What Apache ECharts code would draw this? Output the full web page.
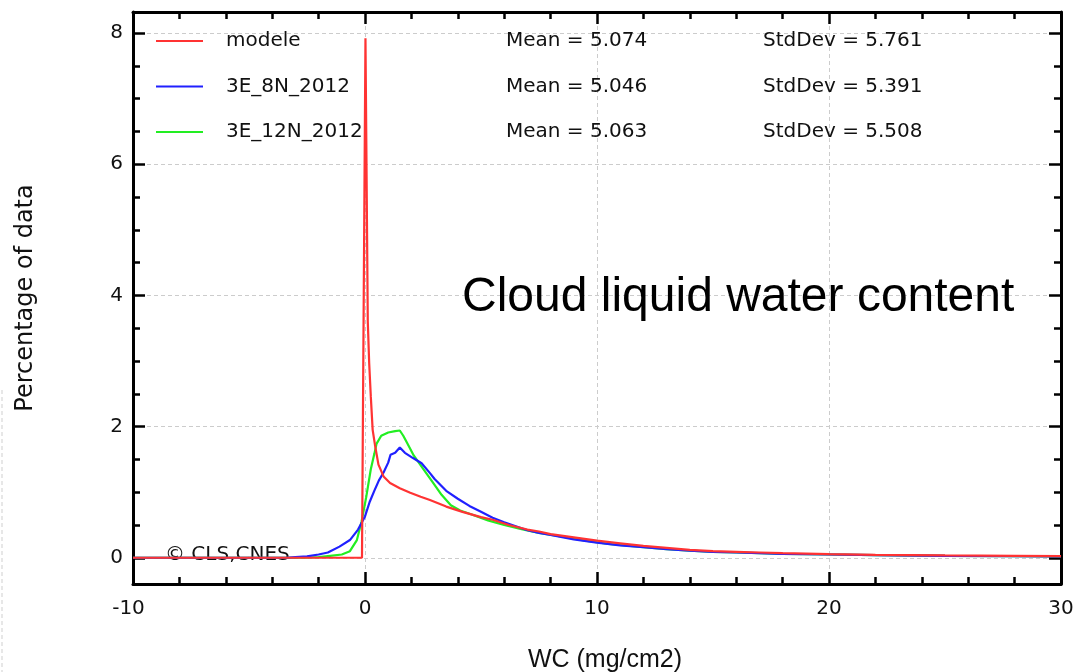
<!DOCTYPE html>
<html>
<head>
<meta charset="utf-8">
<script src="https://cdn.jsdelivr.net/npm/echarts@6/dist/echarts.min.js"></script>
<style>
  html, body { margin: 0; padding: 0; background: #ffffff; }
  #chart { width: 1076px; height: 672px; }
</style>
</head>
<body>
<div id="chart"></div>
<script>
// Histogram of cloud liquid water content (percentage of data per WC bin)
const seriesNames = ['modele', '3E_8N_2012', '3E_12N_2012'];
const seriesColors = ['#ff3333', '#2020ff', '#22ee22'];
const meanValues = ['5.074', '5.046', '5.063'];
const stdDevValues = ['5.761', '5.391', '5.508'];

const yTickValues = [0, 2, 4, 6, 8];

const modeleX = [-10, -0.13, 0.02, 0.12, 0.18, 0.25, 0.33, 0.43, 0.58, 0.8, 1.08, 1.5, 1.95, 2.4, 2.8, 3.5, 4.2, 5.0, 5.5, 6.2, 7.0, 7.5, 8.0, 9.0, 10, 11, 12, 13, 14, 15, 16, 17, 18, 20, 22, 25, 28, 30];
const modeleY = [0, 0, 7.92, 3.6, 2.97, 2.46, 1.95, 1.72, 1.42, 1.24, 1.14, 1.06, 0.99, 0.93, 0.88, 0.78, 0.70, 0.62, 0.58, 0.50, 0.43, 0.40, 0.36, 0.31, 0.26, 0.22, 0.18, 0.15, 0.12, 0.10, 0.09, 0.08, 0.07, 0.055, 0.045, 0.035, 0.03, 0.025];

const blueX = [-10, -3.4, -3.0, -2.5, -2.0, -1.6, -1.1, -0.65, -0.3, 0, 0.2, 0.4, 0.6, 0.8, 1.0, 1.1, 1.3, 1.5, 1.72, 2.07, 2.44, 2.8, 3.0, 3.5, 4.0, 4.5, 5.0, 5.5, 6.0, 6.5, 7.0, 7.5, 8.0, 9.0, 10, 11, 12, 13, 14, 15, 16, 17, 18, 20, 22, 25, 28, 30];
const blueY = [0, 0, 0.01, 0.02, 0.05, 0.08, 0.17, 0.27, 0.43, 0.63, 0.85, 1.02, 1.18, 1.30, 1.45, 1.57, 1.60, 1.68, 1.60, 1.52, 1.44, 1.29, 1.20, 1.02, 0.90, 0.79, 0.70, 0.61, 0.54, 0.48, 0.42, 0.38, 0.35, 0.28, 0.23, 0.19, 0.16, 0.13, 0.11, 0.09, 0.08, 0.07, 0.06, 0.05, 0.04, 0.03, 0.025, 0.02];

const greenX = [-10, -2.6, -2.0, -1.5, -1.0, -0.65, -0.35, -0.15, 0.05, 0.25, 0.4, 0.5, 0.7, 1.0, 1.3, 1.5, 1.65, 1.8, 2.1, 2.5, 2.9, 3.3, 3.7, 4.1, 4.6, 5.3, 6.0, 6.7, 7.5, 8.5, 9.5, 10.5, 12, 13, 14, 15, 16, 18, 20, 22, 25, 28, 30];
const greenY = [0, 0, 0.01, 0.03, 0.05, 0.10, 0.27, 0.55, 0.92, 1.35, 1.58, 1.74, 1.86, 1.91, 1.93, 1.94, 1.86, 1.76, 1.56, 1.36, 1.16, 0.96, 0.80, 0.72, 0.66, 0.57, 0.50, 0.44, 0.38, 0.32, 0.26, 0.21, 0.16, 0.13, 0.11, 0.09, 0.08, 0.06, 0.05, 0.04, 0.03, 0.025, 0.02];

const xSeries = [modeleX, blueX, greenX];
const ySeries = [modeleY, blueY, greenY];

const TEXT_FONT = 'DejaVu Sans';
const TEXT_SIZE = 20;
const TEXT_COLOR = '#111111';
const AXIS_COLOR = '#000000';

function zip(xs, ys) {
  return xs.map((x, i) => [x, ys[i]]);
}

// Shared frame styling for all four sides
function frameAxis(extra) {
  return Object.assign({
    axisLine: { show: true, onZero: false, lineStyle: { color: AXIS_COLOR, width: 3 } },
    axisTick: { show: true, inside: true, length: 12, lineStyle: { color: AXIS_COLOR, width: 2.5 } },
    minorTick: { show: true, length: 7, lineStyle: { color: AXIS_COLOR, width: 2.5 } },
    splitLine: { show: false },
    axisLabel: { show: false }
  }, extra);
}

const gridLine = { show: true, lineStyle: { color: '#cccccc', width: 1, type: [4, 3] } };

const xBase = { type: 'value', min: -10, max: 30, interval: 10 };
const yBase = { type: 'value', min: -0.4, max: 8.32, splitNumber: 5 };

const richCell = (w) => Object.assign({ fontFamily: TEXT_FONT, fontSize: TEXT_SIZE, color: TEXT_COLOR }, w ? { width: w } : {});

const option = {
  animation: false,
  backgroundColor: '#ffffff',
  grid: { left: 133, right: 15, top: 12, bottom: 88, containLabel: false, outerBoundsMode: 'none' },
  title: {
    text: 'Cloud liquid water content',
    left: 462, top: 274, padding: 0,
    textStyle: { fontFamily: 'Liberation Sans', fontSize: 48, fontWeight: 'normal', color: '#000000', lineHeight: 48 }
  },
  legend: {
    orient: 'vertical',
    left: 155, top: 31, padding: 0,
    itemWidth: 47, itemHeight: 20, itemGap: 25.5,
    itemStyle: { opacity: 0 },
    lineStyle: { width: 2 },
    data: seriesNames,
    formatter: function (name) {
      const i = seriesNames.indexOf(name);
      return '{g| }{n|' + name + '}{m|Mean = ' + meanValues[i] + '}{s|StdDev = ' + stdDevValues[i] + '}';
    },
    textStyle: {
      fontFamily: TEXT_FONT, fontSize: TEXT_SIZE, color: TEXT_COLOR, lineHeight: 20,
      rich: {
        g: richCell(18),
        n: richCell(280),
        m: richCell(257),
        s: richCell(0)
      }
    }
  },
  xAxis: [
    frameAxis(Object.assign({}, xBase, {
      position: 'bottom',
      minorTick: { show: true, splitNumber: 5, length: 7, lineStyle: { color: AXIS_COLOR, width: 2.5 } },
      splitLine: gridLine,
      axisLabel: {
        show: true, margin: 15, fontFamily: TEXT_FONT, fontSize: TEXT_SIZE, color: TEXT_COLOR,
        // negative labels sit slightly left of their tick
        formatter: (v) => (v < 0 ? '{neg|' + v + '}' : String(v)),
        rich: { neg: { fontFamily: TEXT_FONT, fontSize: TEXT_SIZE, color: TEXT_COLOR, padding: [0, 9, 0, 0] } }
      },
      name: 'WC (mg/cm2)', nameLocation: 'middle', nameGap: 64,
      nameTextStyle: { fontFamily: 'Liberation Sans', fontSize: 25, color: TEXT_COLOR, padding: [0, 0, 0, 16] }
    })),
    frameAxis(Object.assign({}, xBase, {
      position: 'top',
      minorTick: { show: true, splitNumber: 5, length: 7, lineStyle: { color: AXIS_COLOR, width: 2.5 } }
    }))
  ],
  yAxis: [
    frameAxis(Object.assign({}, yBase, {
      position: 'left',
      axisTick: { show: true, inside: true, length: 12, customValues: yTickValues, lineStyle: { color: AXIS_COLOR, width: 2.5 } },
      minorTick: { show: true, splitNumber: 4, length: 7, lineStyle: { color: AXIS_COLOR, width: 2.5 } },
      splitLine: gridLine,
      axisLabel: { show: true, margin: 10, customValues: yTickValues, fontFamily: TEXT_FONT, fontSize: TEXT_SIZE, color: TEXT_COLOR },
      name: 'Percentage of data', nameLocation: 'middle', nameGap: 95,
      nameTextStyle: { fontFamily: TEXT_FONT, fontSize: 24, color: TEXT_COLOR }
    })),
    frameAxis(Object.assign({}, yBase, {
      position: 'right',
      axisTick: { show: true, inside: true, length: 12, customValues: yTickValues, lineStyle: { color: AXIS_COLOR, width: 2.5 } },
      minorTick: { show: true, splitNumber: 4, length: 7, lineStyle: { color: AXIS_COLOR, width: 2.5 } }
    }))
  ],
  graphic: [
    {
      type: 'text', left: 165, top: 545,
      style: { text: '\u00a9 CLS,CNES', fontFamily: TEXT_FONT, fontSize: TEXT_SIZE, fill: TEXT_COLOR }
    },
    {
      type: 'line', shape: { x1: 2, y1: 390, x2: 2, y2: 672 },
      style: { stroke: '#e0e0e0', lineWidth: 1.5, lineDash: [4, 3] }
    }
  ],
  series: seriesNames.map((name, i) => ({
    name: name,
    type: 'line',
    xAxisIndex: 0,
    yAxisIndex: 0,
    symbol: 'none',
    showSymbol: false,
    clip: true,
    z: 3 - i,
    data: zip(xSeries[i], ySeries[i]),
    lineStyle: { color: seriesColors[i], width: 2.2 },
    itemStyle: { color: seriesColors[i] }
  }))
};

const chart = echarts.init(document.getElementById('chart'), null, { renderer: 'canvas' });
chart.setOption(option);
</script>
</body>
</html>
